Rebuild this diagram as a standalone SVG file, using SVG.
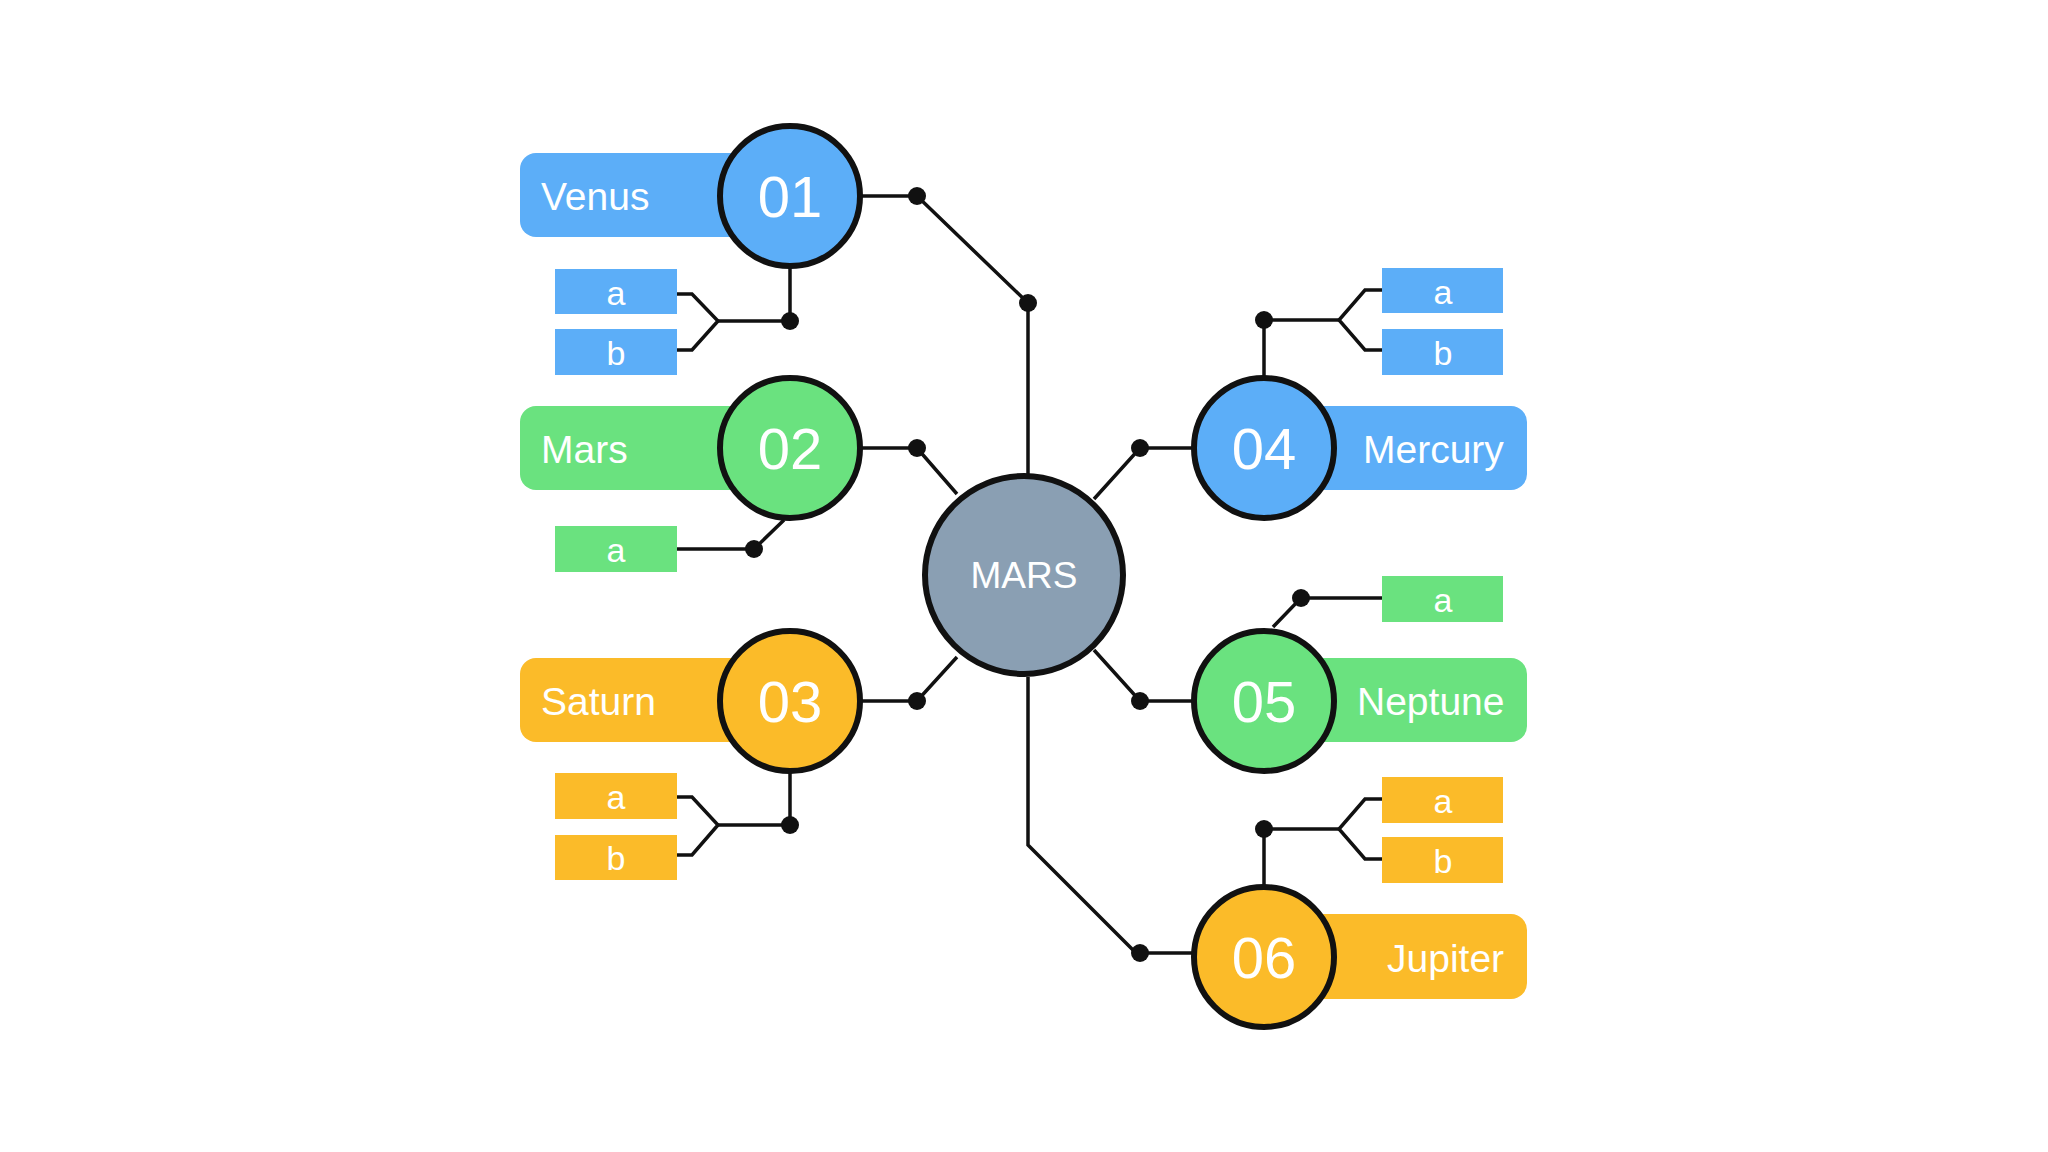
<svg xmlns="http://www.w3.org/2000/svg" width="2048" height="1152" viewBox="0 0 2048 1152">
<style>
.ln{fill:none;stroke:#111;stroke-width:3.5}
.dot{fill:#111}
.c{stroke:#111;stroke-width:6}
.blue{fill:#5caef8}.green{fill:#6ae27f}.yel{fill:#fbbb29}
.t{font-family:"Liberation Sans",Arial,sans-serif;fill:#fff}
.num{font-size:58px;text-anchor:middle}
.lab{font-size:39px}
.sm{font-size:34px;text-anchor:middle}
</style>
<rect width="2048" height="1152" fill="#fff"/>
<g id="connectors">
<polyline class="ln" points="862,196 917,196 1028,303 1028,475"/>
<polyline class="ln" points="790,268 790,321 718,321"/>
<polyline class="ln" points="677,294 692,294 718,321 692,350 677,350"/>
<polyline class="ln" points="862,448 917,448 957,494"/>
<polyline class="ln" points="784,520 754,549 677,549"/>
<polyline class="ln" points="862,701 917,701 957,657"/>
<polyline class="ln" points="790,773 790,825 718,825"/>
<polyline class="ln" points="677,797 692,797 718,825 692,855 677,855"/>
<polyline class="ln" points="1194,448 1140,448 1094,499"/>
<polyline class="ln" points="1264,376 1264,320 1339,320"/>
<polyline class="ln" points="1382,290 1365,290 1339,320 1365,350 1382,350"/>
<polyline class="ln" points="1194,701 1140,701 1094,650"/>
<polyline class="ln" points="1273,627 1301,598 1382,598"/>
<polyline class="ln" points="1028,677 1028,845 1136,953 1193,953"/>
<polyline class="ln" points="1264,885 1264,829 1339,829"/>
<polyline class="ln" points="1382,799 1365,799 1339,829 1365,859 1382,859"/>
<circle class="dot" cx="917" cy="196" r="9"/><circle class="dot" cx="1028" cy="303" r="9"/>
<circle class="dot" cx="790" cy="321" r="9"/><circle class="dot" cx="917" cy="448" r="9"/>
<circle class="dot" cx="754" cy="549" r="9"/><circle class="dot" cx="917" cy="701" r="9"/>
<circle class="dot" cx="790" cy="825" r="9"/><circle class="dot" cx="1140" cy="448" r="9"/>
<circle class="dot" cx="1264" cy="320" r="9"/><circle class="dot" cx="1140" cy="701" r="9"/>
<circle class="dot" cx="1301" cy="598" r="9"/><circle class="dot" cx="1140" cy="953" r="9"/>
<circle class="dot" cx="1264" cy="829" r="9"/>
</g>
<g id="center"><circle class="c" cx="1024" cy="575" r="99" fill="#8a9fb3" stroke-width="7"/><text class="t" x="1024" y="588" font-size="37" text-anchor="middle">MARS</text></g>
<g id="n01">
<rect class="blue" x="520" y="153" width="270" height="84" rx="16"/>
<rect class="blue" x="555" y="269" width="122" height="45"/><rect class="blue" x="555" y="329" width="122" height="46"/>
<text class="t sm" x="616" y="305">a</text><text class="t sm" x="616" y="365">b</text>
<text class="t lab" x="541" y="210">Venus</text>
<circle class="c blue" cx="790" cy="196" r="70"/><text class="t num" x="790" y="217">01</text>
</g>
<g id="n02">
<rect class="green" x="520" y="406" width="270" height="84" rx="16"/>
<rect class="green" x="555" y="526" width="122" height="46"/><text class="t sm" x="616" y="562">a</text>
<text class="t lab" x="541" y="463">Mars</text>
<circle class="c green" cx="790" cy="448" r="70"/><text class="t num" x="790" y="469">02</text>
</g>
<g id="n03">
<rect class="yel" x="520" y="658" width="270" height="84" rx="16"/>
<rect class="yel" x="555" y="773" width="122" height="46"/><rect class="yel" x="555" y="835" width="122" height="45"/>
<text class="t sm" x="616" y="809">a</text><text class="t sm" x="616" y="870">b</text>
<text class="t lab" x="541" y="715">Saturn</text>
<circle class="c yel" cx="790" cy="701" r="70"/><text class="t num" x="790" y="722">03</text>
</g>
<g id="n04">
<rect class="blue" x="1264" y="406" width="263" height="84" rx="16"/>
<rect class="blue" x="1382" y="268" width="121" height="45"/><rect class="blue" x="1382" y="329" width="121" height="46"/>
<text class="t sm" x="1443" y="304">a</text><text class="t sm" x="1443" y="365">b</text>
<text class="t lab" x="1363" y="463">Mercury</text>
<circle class="c blue" cx="1264" cy="448" r="70"/><text class="t num" x="1264" y="469">04</text>
</g>
<g id="n05">
<rect class="green" x="1264" y="658" width="263" height="84" rx="16"/>
<rect class="green" x="1382" y="576" width="121" height="46"/><text class="t sm" x="1443" y="612">a</text>
<text class="t lab" x="1357" y="715">Neptune</text>
<circle class="c green" cx="1264" cy="701" r="70"/><text class="t num" x="1264" y="722">05</text>
</g>
<g id="n06">
<rect class="yel" x="1264" y="914" width="263" height="85" rx="16"/>
<rect class="yel" x="1382" y="777" width="121" height="46"/><rect class="yel" x="1382" y="837" width="121" height="46"/>
<text class="t sm" x="1443" y="813">a</text><text class="t sm" x="1443" y="873">b</text>
<text class="t lab" x="1387" y="972">Jupiter</text>
<circle class="c yel" cx="1264" cy="957" r="70"/><text class="t num" x="1264" y="978">06</text>
</g>
</svg>
